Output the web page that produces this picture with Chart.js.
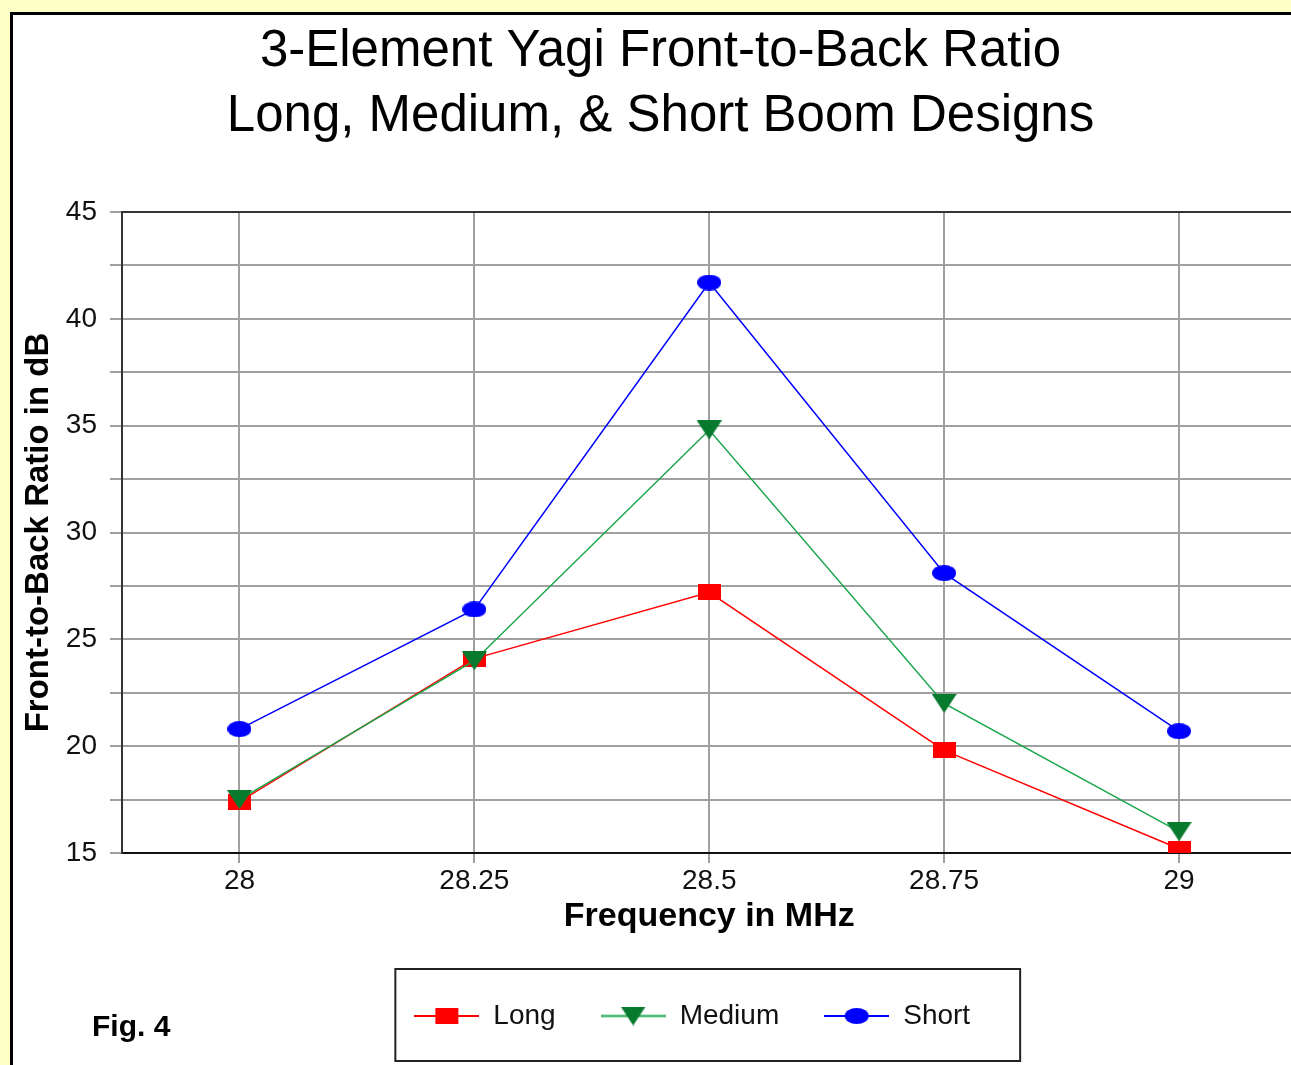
<!DOCTYPE html>
<html>
<head>
<meta charset="utf-8">
<title>3-Element Yagi Front-to-Back Ratio</title>
<script src="https://cdn.jsdelivr.net/npm/chart.js@4.4.1/dist/chart.umd.min.js"></script>
<style>
  html, body { margin: 0; padding: 0; width: 1291px; height: 1065px; overflow: hidden; background: #ffffc8; }
  #panel { position: absolute; left: 10px; top: 12px; width: 1310px; height: 1100px;
           border-left: 3px solid #000; border-top: 3px solid #000; background: #fff; }
  #chart { position: absolute; left: 0; top: 0; }
  #fig { position: absolute; left: 79px; top: 996px; color: #000;
         font: bold 30px/30px "Liberation Sans", Arial, sans-serif; }
</style>
</head>
<body>
<div id="panel">
  <canvas id="chart" width="1295" height="1050"></canvas>
  <div id="fig">Fig. 4</div>
</div>
<script>
// Data
const frequencies = ['28', '28.25', '28.5', '28.75', '29'];
const longBoom = [17.4, 24.1, 27.2, 19.8, 15.2];
const mediumBoom = [17.5, 24.0, 34.8, 22.0, 16.0];
const shortBoom = [20.8, 26.4, 41.7, 28.1, 20.7];
const yMin = 15;
const yMax = 45;
const yStep = 2.5;
const yLabelEvery = 5;

const FONT = '"Liberation Sans", Arial, sans-serif';
Chart.defaults.font.family = FONT;
Chart.defaults.color = '#111';

// Marker images (the old chart uses slightly wide markers)
const makeMarker = (shape, color, w, h, lineColor, lineLen) => {
  const c = document.createElement('canvas');
  const cw = lineLen || w;
  c.width = cw;
  c.height = h;
  const ctx = c.getContext('2d');
  if (lineLen) {
    ctx.strokeStyle = lineColor;
    ctx.lineWidth = 2;
    ctx.beginPath();
    ctx.moveTo(0, h / 2);
    ctx.lineTo(cw, h / 2);
    ctx.stroke();
  }
  const x0 = (cw - w) / 2;
  ctx.fillStyle = color;
  ctx.beginPath();
  if (shape === 'square') {
    ctx.rect(x0, 0, w, h);
  } else if (shape === 'triangle') {
    ctx.moveTo(x0, 0);
    ctx.lineTo(x0 + w, 0);
    ctx.lineTo(x0 + w / 2, h);
    ctx.closePath();
  } else {
    ctx.ellipse(x0 + w / 2, h / 2, w / 2, h / 2, 0, 0, Math.PI * 2);
  }
  ctx.fill();
  return c;
};

const series = [
  { label: 'Long', data: longBoom, line: '#ff0000', fill: '#ff0000', shape: 'square', w: 23, h: 16, order: 2 },
  { label: 'Medium', data: mediumBoom, line: '#1aa64a', fill: '#087a2e', shape: 'triangle', w: 25, h: 19, order: 1 },
  { label: 'Short', data: shortBoom, line: '#0000ff', fill: '#0000ff', shape: 'circle', w: 24, h: 16, order: 3 }
];

const legendImages = {};
const datasets = series.map((s) => {
  legendImages[s.label] = makeMarker(s.shape, s.fill, s.w, s.h, s.line, 65);
  return {
    label: s.label,
    data: s.data,
    order: s.order,
    borderColor: s.line,
    backgroundColor: s.fill,
    borderWidth: 1.5,
    tension: 0,
    pointStyle: makeMarker(s.shape, s.fill, s.w, s.h),
    pointRadius: 10
  };
});

// Move the legend a little left and frame it
const chartDecor = {
  id: 'chartDecor',
  afterLayout(chart) {
    chart.legend.left -= 17;
    chart.legend.right -= 17;
  },
  afterDraw(chart) {
    const boxes = chart.legend.legendHitBoxes;
    if (!boxes || !boxes.length) return;
    const first = boxes[0];
    const last = boxes[boxes.length - 1];
    const cy = first.top + first.height / 2;
    const left = first.left - 19;
    const right = last.left + last.width + 50;
    const ctx = chart.ctx;
    ctx.save();
    ctx.strokeStyle = '#222';
    ctx.lineWidth = 2;
    ctx.strokeRect(left, cy - 47, right - left, 92);
    ctx.restore();
  }
};

new Chart(document.getElementById('chart'), {
  type: 'line',
  data: { labels: frequencies, datasets },
  plugins: [chartDecor],
  options: {
    responsive: false,
    animation: false,
    devicePixelRatio: 1,
    layout: { padding: { left: 0, right: 0, top: 0, bottom: 25 } },
    plugins: {
      title: {
        display: true,
        text: ['3-Element Yagi Front-to-Back Ratio', 'Long, Medium, & Short Boom Designs'],
        color: '#000',
        font: { size: 51, weight: 'normal', lineHeight: 1.275 },
        padding: { top: 4, bottom: 63 }
      },
      legend: {
        position: 'bottom',
        fullSize: false,
        labels: {
          usePointStyle: true,
          pointStyleWidth: 65,
          padding: 45,
          color: '#111',
          font: { size: 28 },
          sort: (a, b) => a.datasetIndex - b.datasetIndex,
          generateLabels(chart) {
            const items = Chart.defaults.plugins.legend.labels.generateLabels(chart);
            items.forEach((it) => { it.pointStyle = legendImages[it.text]; });
            return items;
          }
        }
      },
      tooltip: { enabled: false }
    },
    scales: {
      x: {
        type: 'category',
        offset: true,
        afterFit: (scale) => { scale.height = 104; },
        grid: { color: '#a0a0a0', lineWidth: 2, tickLength: 10, tickColor: '#a0a0a0' },
        border: { color: '#111', width: 2 },
        ticks: { padding: 1, color: '#111', font: { size: 28, lineHeight: 1.2 }, maxRotation: 0 },
        title: {
          display: true,
          text: 'Frequency in MHz',
          color: '#000',
          font: { size: 34, weight: 'bold', lineHeight: 1.2 },
          padding: { top: 0, bottom: 20 }
        }
      },
      y: {
        min: yMin,
        max: yMax,
        afterFit: (scale) => { scale.width = 109; },
        grid: {
          color: (ctx) => (ctx.tick && ctx.tick.value === yMax ? '#333' : '#a0a0a0'),
          lineWidth: 2,
          tickLength: 12,
          tickColor: '#a0a0a0'
        },
        border: { color: '#333', width: 2 },
        ticks: {
          stepSize: yStep,
          padding: 13,
          color: '#111',
          font: { size: 28 },
          callback: (v) => (v % yLabelEvery === 0 ? v : '')
        },
        title: {
          display: true,
          text: 'Front-to-Back Ratio in dB',
          color: '#000',
          font: { size: 33, weight: 'bold', lineHeight: 1.2 },
          padding: { top: 6, bottom: 0 }
        }
      }
    }
  }
});
</script>
</body>
</html>
